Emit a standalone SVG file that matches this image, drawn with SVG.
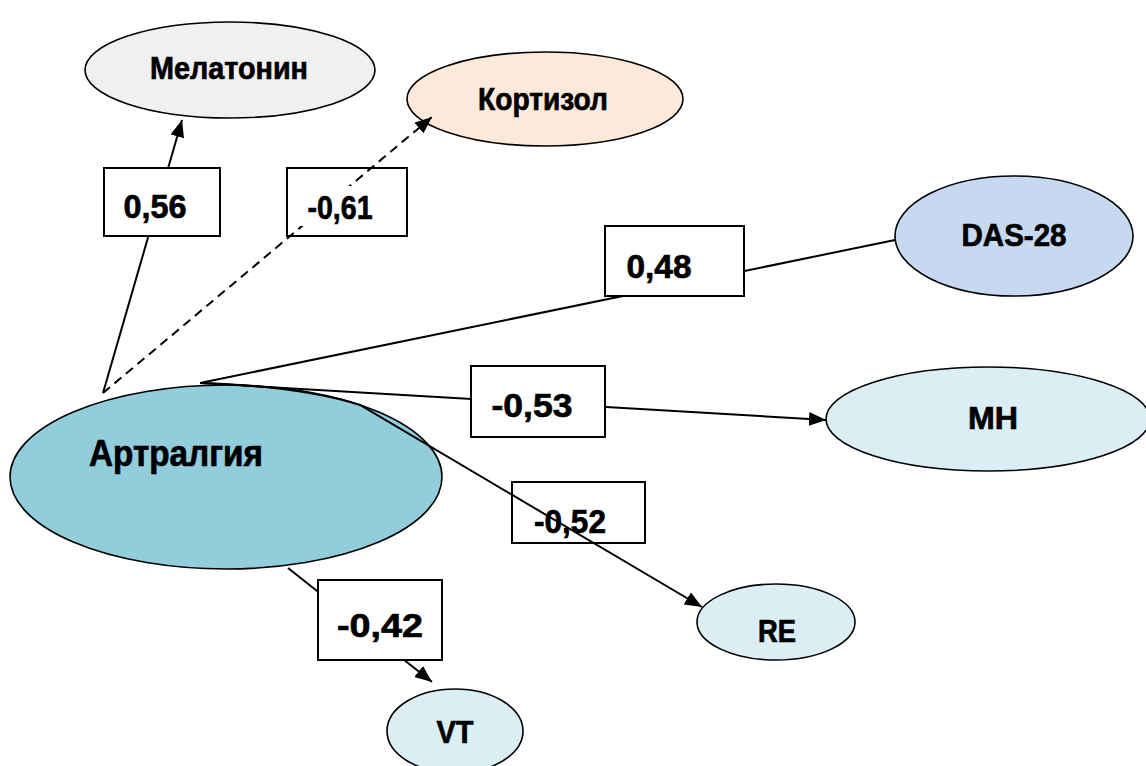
<svg xmlns="http://www.w3.org/2000/svg" width="1146" height="766" viewBox="0 0 1146 766">
<defs>
<style>
.node{stroke:#000;stroke-width:1.6}
.t{font-family:"Liberation Sans",Arial,sans-serif;font-weight:bold;fill:#000;stroke:#000;stroke-width:0.7;text-anchor:middle}
.box{fill:#fff;stroke:#000;stroke-width:2}
.c{fill:none;stroke:#000;stroke-width:2}
</style>
<marker id="ah" markerUnits="userSpaceOnUse" markerWidth="18" markerHeight="14" refX="17" refY="7" orient="auto">
<path d="M0,0 L17,7 L0,14 z" fill="#000"/>
</marker>
</defs>
<rect width="1146" height="766" fill="#fff"/>
<g id="node-melatonin">
<ellipse class="node" cx="230" cy="70" rx="145" ry="48" fill="#f0f0f0"/>
<text class="t" x="229" y="79" font-size="32" textLength="158" lengthAdjust="spacingAndGlyphs">Мелатонин</text>
</g>
<g id="node-kortizol">
<ellipse class="node" cx="545" cy="99" rx="138" ry="47" fill="#fde9d9"/>
<text class="t" x="543" y="110" font-size="32" textLength="130" lengthAdjust="spacingAndGlyphs">Кортизол</text>
</g>
<g id="node-das28">
<ellipse class="node" cx="1014" cy="236" rx="119" ry="60" fill="#c6d9f1"/>
<text class="t" x="1014" y="246" font-size="32" textLength="105" lengthAdjust="spacingAndGlyphs">DAS-28</text>
</g>
<g id="node-mh">
<ellipse class="node" cx="988" cy="419" rx="162" ry="52" fill="#daeef3"/>
<text class="t" x="993" y="429" font-size="32" textLength="50" lengthAdjust="spacingAndGlyphs">MH</text>
</g>
<g id="node-artralgia">
<ellipse class="node" cx="226" cy="477" rx="216" ry="92" fill="#92cddc"/>
<text class="t" x="176" y="466" font-size="36" textLength="174" lengthAdjust="spacingAndGlyphs">Артралгия</text>
</g>
<g id="node-re">
<ellipse class="node" cx="776" cy="622" rx="79" ry="38" fill="#daeef3"/>
<text class="t" x="777" y="642" font-size="31" textLength="38" lengthAdjust="spacingAndGlyphs">RE</text>
</g>
<g id="node-vt">
<ellipse class="node" cx="455" cy="731" rx="68" ry="42" fill="#daeef3"/>
<text class="t" x="455" y="743" font-size="31" textLength="37" lengthAdjust="spacingAndGlyphs">VT</text>
</g>
<g id="labels-under">
<rect class="box" x="287" y="168" width="120" height="68"/>
<rect class="box" x="512" y="482" width="133" height="61"/>
<text class="t" x="570" y="533" font-size="34" textLength="72" lengthAdjust="spacingAndGlyphs">-0,52</text>
</g>
<g id="connectors">
<line class="c" x1="103" y1="393" x2="182" y2="120" marker-end="url(#ah)"/>
<line class="c" x1="103" y1="393" x2="432" y2="117" stroke-dasharray="9,6" marker-end="url(#ah)"/>
<line class="c" x1="200" y1="383" x2="895" y2="240"/>
<line class="c" x1="200" y1="383" x2="826" y2="420" marker-end="url(#ah)"/>
<path class="c" d="M200,383 Q300,386 360,405 L702,607" marker-end="url(#ah)"/>
<line class="c" x1="288" y1="568" x2="432" y2="682" marker-end="url(#ah)"/>
</g>
<g id="labels">
<rect x="300" y="186" width="84" height="40" fill="#fff"/>
<text class="t" x="340" y="219" font-size="33" textLength="65" lengthAdjust="spacingAndGlyphs">-0,61</text>
<rect class="box" x="104" y="168" width="116" height="68"/>
<text class="t" x="155" y="218" font-size="34" textLength="63" lengthAdjust="spacingAndGlyphs">0,56</text>
<rect class="box" x="605" y="226" width="139" height="70"/>
<text class="t" x="659" y="278" font-size="34" textLength="65" lengthAdjust="spacingAndGlyphs">0,48</text>
<rect class="box" x="471" y="366" width="134" height="71"/>
<text class="t" x="532" y="417" font-size="34" textLength="81" lengthAdjust="spacingAndGlyphs">-0,53</text>
<rect class="box" x="318" y="580" width="124" height="80"/>
<text class="t" x="380" y="637" font-size="34" textLength="86" lengthAdjust="spacingAndGlyphs">-0,42</text>
</g>
</svg>
